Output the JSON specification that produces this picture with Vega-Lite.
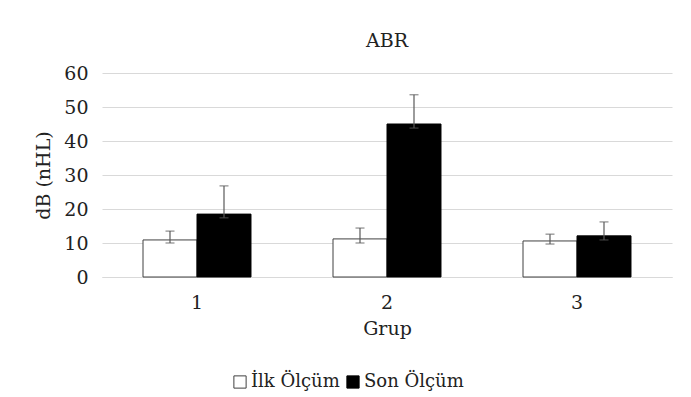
{
  "$schema": "https://vega.github.io/schema/vega-lite/v6.json",
  "autosize": "none",
  "width": 570,
  "height": 204,
  "padding": {"left": 102, "top": 73, "right": 19, "bottom": 120},
  "background": "white",
  "title": {"text": "ABR", "fontSize": 19, "font": "DejaVu Serif", "fontWeight": "normal", "color": "#222", "offset": 13, "anchor": "middle"},
  "data": {"values": [
    {"grup": "1", "olcum": "İlk Ölçüm", "value": 10.9, "lo": 10.0, "hi": 13.5},
    {"grup": "1", "olcum": "Son Ölçüm", "value": 18.5, "lo": 17.4, "hi": 26.8},
    {"grup": "2", "olcum": "İlk Ölçüm", "value": 11.2, "lo": 10.0, "hi": 14.4},
    {"grup": "2", "olcum": "Son Ölçüm", "value": 45.0, "lo": 43.8, "hi": 53.6},
    {"grup": "3", "olcum": "İlk Ölçüm", "value": 10.6, "lo": 9.7, "hi": 12.6},
    {"grup": "3", "olcum": "Son Ölçüm", "value": 12.1, "lo": 10.9, "hi": 16.2}
  ]},
  "encoding": {
    "x": {"field": "grup", "type": "nominal", "title": "Grup",
      "scale": {"paddingInner": 0.4316, "paddingOuter": 0.2158},
      "axis": {"labelAngle": 0, "ticks": false, "domain": true, "domainColor": "#d9d9d9", "labelPadding": 16, "titlePadding": 7, "grid": false}},
    "xOffset": {"field": "olcum", "type": "nominal", "sort": ["İlk Ölçüm", "Son Ölçüm"], "scale": {"paddingInner": 0, "paddingOuter": 0}}
  },
  "layer": [
    {
      "mark": {"type": "bar", "strokeWidth": 1},
      "encoding": {
        "y": {"field": "value", "type": "quantitative", "title": "dB (nHL)",
          "scale": {"domain": [0, 60], "nice": false},
          "axis": {"values": [0, 10, 20, 30, 40, 50, 60], "labelOverlap": false, "ticks": false, "domain": false, "labelPadding": 14, "titlePadding": 10, "gridColor": "#d9d9d9"}},
        "fill": {"field": "olcum", "type": "nominal", "title": null,
          "scale": {"domain": ["İlk Ölçüm", "Son Ölçüm"], "range": ["#ffffff", "#000000"]},
          "legend": {"orient": "none", "legendX": 129, "legendY": 300, "direction": "horizontal", "symbolType": "square", "symbolSize": 150, "symbolStrokeWidth": 1, "labelFontSize": 18, "labelFont": "DejaVu Serif", "labelColor": "#222", "columnPadding": 4, "symbolOffset": 0, "labelOffset": 2}},
        "stroke": {"field": "olcum", "type": "nominal", "title": null,
          "scale": {"domain": ["İlk Ölçüm", "Son Ölçüm"], "range": ["#404040", "#000000"]}}
      }
    },
    {
      "mark": {"type": "rule", "color": "#595959", "strokeWidth": 1.2},
      "encoding": {
        "y": {"field": "lo", "type": "quantitative", "title": "dB (nHL)",
          "axis": {"values": [0, 10, 20, 30, 40, 50, 60], "labelOverlap": false, "ticks": false, "domain": false, "labelPadding": 14, "titlePadding": 10, "gridColor": "#d9d9d9"}},
        "y2": {"field": "hi"}
      }
    },
    {
      "mark": {"type": "tick", "color": "#595959", "thickness": 1.2, "size": 9, "orient": "horizontal"},
      "encoding": {"y": {"field": "hi", "type": "quantitative", "title": "dB (nHL)",
          "axis": {"values": [0, 10, 20, 30, 40, 50, 60], "labelOverlap": false, "ticks": false, "domain": false, "labelPadding": 14, "titlePadding": 10, "gridColor": "#d9d9d9"}}}
    },
    {
      "mark": {"type": "tick", "color": "#595959", "thickness": 1.2, "size": 9, "orient": "horizontal"},
      "encoding": {"y": {"field": "lo", "type": "quantitative", "title": "dB (nHL)",
          "axis": {"values": [0, 10, 20, 30, 40, 50, 60], "labelOverlap": false, "ticks": false, "domain": false, "labelPadding": 14, "titlePadding": 10, "gridColor": "#d9d9d9"}}}
    }
  ],
  "config": {
    "font": "DejaVu Serif",
    "view": {"stroke": null},
    "axis": {"labelFont": "DejaVu Serif", "titleFont": "DejaVu Serif", "labelFontSize": 19, "titleFontSize": 19, "titleFontWeight": "normal", "labelColor": "#222", "titleColor": "#222"}
  }
}
